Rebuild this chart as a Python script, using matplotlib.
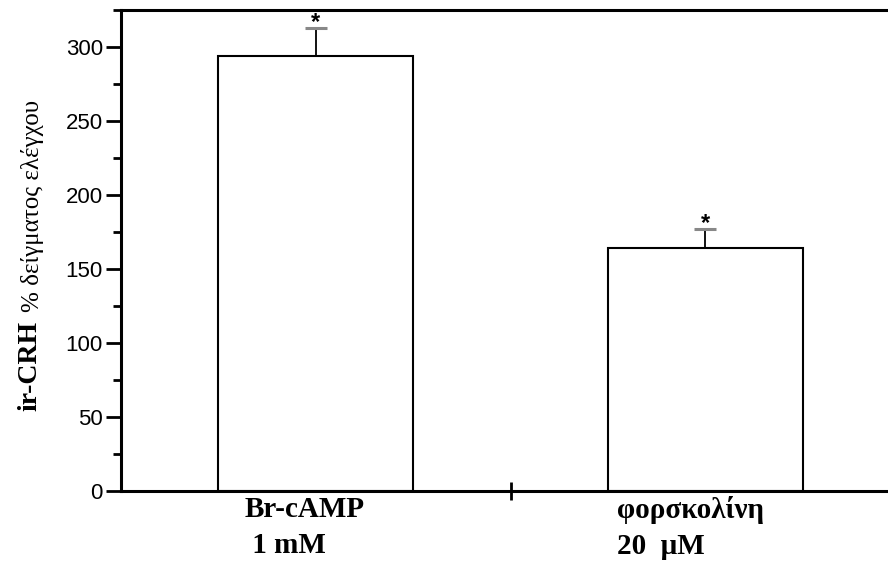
import matplotlib
matplotlib.use("Agg")
import matplotlib.pyplot as plt
from matplotlib.ticker import MultipleLocator, FixedLocator, NullFormatter

categories = ["Br-cAMP\n 1 mM", "φορσκολίνη\n20  μM"]
values = [294, 164.5]
errors = [19, 12.5]
stars = ["*", "*"]
yticks = [0, 50, 100, 150, 200, 250, 300]

fig = plt.figure(figsize=(8.88, 5.76), dpi=100)
ax = fig.add_axes([121/888, (576-491)/576, (900-121)/888, (491-10)/576])

x = list(range(len(values)))
ax.bar(x, values, width=0.5, color="white", edgecolor="black", linewidth=1.5, zorder=2)
ax.errorbar(x, values, yerr=[[0]*len(errors), errors], fmt="none", ecolor="black",
            elinewidth=1.3, capsize=0, zorder=3)
# caps drawn in grey
for xi, v, e in zip(x, values, errors):
    ax.errorbar([xi], [v + e], xerr=[[0.028], [0.028]], fmt="none", ecolor="#888888",
                elinewidth=2.2, capsize=0, zorder=3)
for xi, v, e, s in zip(x, values, errors, stars):
    ax.annotate(s, (xi, v + e), xytext=(0, -1), textcoords="offset pixels",
                ha="center", va="baseline", fontsize=17, fontweight="bold",
                family="Liberation Sans")

ax.set_xlim(-0.5, 1.5)
ax.set_ylim(0, 325)

for side in ["left", "bottom", "top", "right"]:
    ax.spines[side].set_linewidth(2.2)

ax.yaxis.set_major_locator(FixedLocator(yticks))
ax.yaxis.set_minor_locator(MultipleLocator(25))
ax.tick_params(axis="y", which="major", direction="out", length=11, width=2,
               labelsize=16, pad=2)
ax.tick_params(axis="y", which="minor", direction="out", length=6, width=2)
for lab in ax.get_yticklabels():
    lab.set_family("Liberation Sans")

ax.xaxis.set_major_locator(FixedLocator([0.5]))
ax.xaxis.set_major_formatter(NullFormatter())
ax.xaxis.set_minor_locator(FixedLocator([0, 1]))
ax.tick_params(axis="x", which="major", direction="inout", length=13, width=2)
ax.tick_params(axis="x", which="minor", direction="in", length=3, width=1)

offsets = [-71, -88]
for xi, lab, off in zip(x, categories, offsets):
    ax.annotate(lab, (xi, 0), xytext=(off, -5), textcoords="offset pixels",
                ha="left", va="top", fontsize=21, fontweight="bold",
                family="Liberation Serif", linespacing=1.45)

# y label in two parts
t1 = fig.text(30/888, 1 - 411/576, "ir-CRH", rotation=90, ha="center", va="bottom",
              fontsize=20, fontweight="bold", family="Liberation Serif")
fig.canvas.draw()
bb = t1.get_window_extent()
fig.text(33/888, (bb.y1 + 9) / 576, "% δείγματος ελέγχου", rotation=90,
         ha="center", va="bottom", fontsize=18, family="Liberation Serif")

fig.savefig("out.png", dpi=100)
